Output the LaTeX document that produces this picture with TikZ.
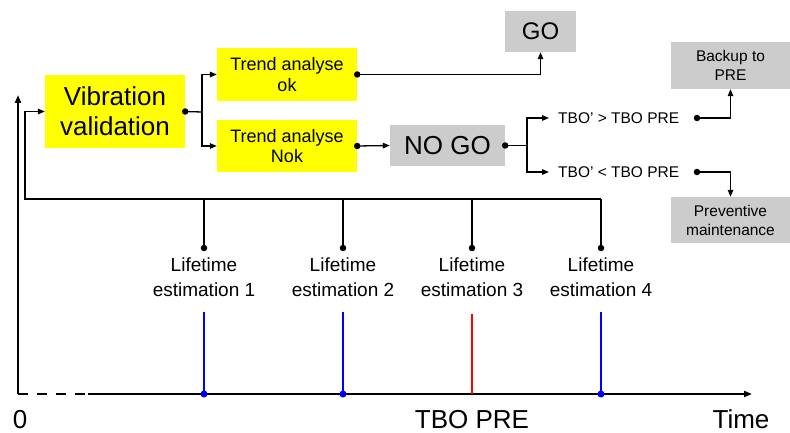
\documentclass[tikz,border=0pt]{standalone}
\usepackage{fontspec}
\setmainfont{Liberation Sans}
\usetikzlibrary{arrows.meta,calc}
\definecolor{boxyellow}{HTML}{FFFF00}
\definecolor{boxgray}{HTML}{CCCCCC}
\definecolor{lineblue}{HTML}{0000FF}
\definecolor{linered}{HTML}{FF0000}
\begin{document}
\begin{tikzpicture}[x=1pt,y=-1pt,
  conn/.style={line width=1.3pt,-{Triangle[length=7pt,width=5.5pt]}},
  plain/.style={line width=1.3pt},
  ybox/.style={fill=boxyellow,inner sep=0pt,align=center},
  gbox/.style={fill=boxgray,inner sep=0pt,align=center},
  lbl/.style={inner sep=0pt,align=center},
  dotc/.style={circle,fill=black,inner sep=0pt,minimum size=6.5pt},
  bdot/.style={circle,fill=lineblue,inner sep=0pt,minimum size=7pt},
  axis/.style={line width=2.2pt},
  mark1/.style={line width=2.8pt}
]
\useasboundingbox (0,0) rectangle (790,433);

% boxes
\node[ybox,minimum width=140pt,minimum height=73pt,font=\fontsize{26}{30}\selectfont] (vib) at (115,111.5) {Vibration\\validation};
\node[ybox,minimum width=140pt,minimum height=53pt,font=\fontsize{18}{20.5}\selectfont] (ok) at (287,74.5) {Trend analyse\\ok};
\node[ybox,minimum width=140pt,minimum height=52pt,font=\fontsize{18}{20.5}\selectfont] (nok) at (287,146) {Trend analyse\\Nok};
\node[gbox,minimum width=71pt,minimum height=41pt,font=\fontsize{24}{28}\selectfont] (go) at (540.5,31.5) {GO};
\node[gbox,minimum width=115pt,minimum height=41pt,font=\fontsize{26}{30}\selectfont] (nogo) at (447.5,145.5) {NO GO};
\node[gbox,minimum width=119pt,minimum height=47pt,font=\fontsize{15.5}{19}\selectfont] (backup) at (730.5,65.5) {Backup to\\PRE};
\node[gbox,minimum width=119pt,minimum height=46pt,font=\fontsize{15.5}{19}\selectfont] (prev) at (730.5,220) {Preventive\\maintenance};

% condition texts
\node[lbl,anchor=west,inner xsep=9pt,font=\fontsize{15.5}{19}\selectfont] (tgt) at (549,118) {TBO' > TBO PRE};
\node[lbl,anchor=west,inner xsep=9pt,font=\fontsize{15.5}{19}\selectfont] (tlt) at (549,172) {TBO' < TBO PRE};

% branch points
\coordinate (b1) at (202,112);
\coordinate (b2) at (527,145.5);
\coordinate (d1) at (697,118);
\coordinate (d2) at (697,172);

% vibration -> trend
\draw[plain] (vib.east) -- (b1);
\draw[conn] (b1) |- (ok.west);
\draw[conn] (b1) |- (nok.west);
\node[dotc] at (vib.east) {};

% ok -> GO
\draw[conn] (ok.east) -| (go.south);
\node[dotc] at (ok.east) {};

% nok -> NO GO
\draw[conn] (nok.east) -- (nogo.west);
\node[dotc] at (nok.east) {};

% NO GO branches
\draw[plain] (nogo.east) -- (b2);
\draw[conn] (b2) |- (tgt.west);
\draw[conn] (b2) |- (tlt.west);
\node[dotc] at (nogo.east) {};

\draw[conn] (d1) -| (backup.south);
\draw[conn] (d2) -| (prev.north);
\node[dotc] at (d1) {};
\node[dotc] at (d2) {};

% feedback loop and lifetime estimations
\coordinate (f0) at (25,199);
\coordinate (t1) at (204,199);
\coordinate (t2) at (343,199);
\coordinate (t3) at (472,199);
\coordinate (t4) at (601,199);
\coordinate (p1) at (204,248);
\coordinate (p2) at (343,248);
\coordinate (p3) at (472,248);
\coordinate (p4) at (601,248);
\draw[conn] (t4) -- (f0) |- (vib.west);
\foreach \i in {1,2,3,4} {
  \draw[plain] (t\i) -- (p\i);
  \node[dotc] at (p\i) {};
}
\foreach \i/\x in {1/204,2/343,3/472,4/601} {
  \node[lbl,anchor=north,font=\fontsize{19}{25}\selectfont] (lt\i) at (\x,258) {Lifetime\\estimation \i};
}

% time axis
\coordinate (o) at (18,394);
\coordinate (ytop) at (18,95);
\coordinate (xs) at (88,394);
\coordinate (xend) at (752,394);
\draw[axis,-{Triangle[length=8pt,width=6pt]}] (o) -- (ytop);
\draw[axis,dash pattern=on 10pt off 9pt,dash phase=0pt] (o) -- (xs);
\draw[axis,-{Triangle[length=8pt,width=6pt]}] (xs) -- (xend);

% marks on time axis
\coordinate (m1) at (204,312);
\coordinate (m2) at (343,312);
\coordinate (m3) at (472,314);
\coordinate (m4) at (601,312);
\coordinate (a1) at (204,394);
\coordinate (a2) at (343,394);
\coordinate (a3) at (472,394);
\coordinate (a4) at (601,394);
\draw[mark1,lineblue] (m1) -- (a1);
\draw[mark1,lineblue] (m2) -- (a2);
\draw[mark1,linered] (m3) -- (a3);
\draw[mark1,lineblue] (m4) -- (a4);
\node[bdot] at (a1) {};
\node[bdot] at (a2) {};
\node[bdot] at (a4) {};

% axis labels
\node[lbl,anchor=base,font=\fontsize{26}{30}\selectfont] (zero) at (20,428) {0};
\node[lbl,anchor=base,font=\fontsize{26}{30}\selectfont] (tbo) at (472,428) {TBO PRE};
\node[lbl,anchor=base,font=\fontsize{26}{30}\selectfont] (time) at (741,428) {Time};
\end{tikzpicture}
\end{document}
